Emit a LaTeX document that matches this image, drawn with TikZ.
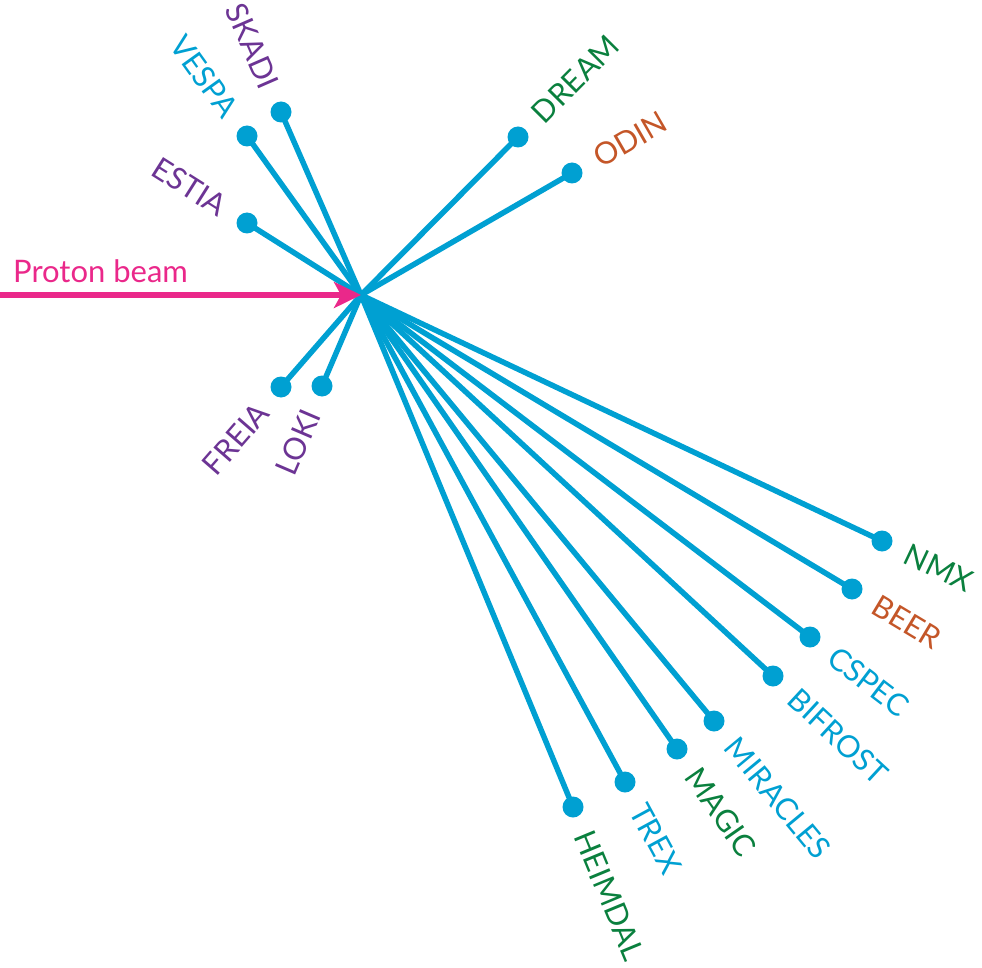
\documentclass[tikz,border=0pt]{standalone}
\usepackage{fontspec}
\setmainfont{Lato}
\usetikzlibrary{calc,arrows.meta}
\definecolor{essblue}{RGB}{0,160,210}
\definecolor{esspurple}{RGB}{108,52,148}
\definecolor{essgreen}{RGB}{10,128,62}
\definecolor{essorange}{RGB}{196,86,40}
\definecolor{esspink}{RGB}{234,40,138}
\newcommand\labfont{\fontsize{30.5}{36}\selectfont}
\newcommand\beamfont{\fontsize{31}{37}\selectfont}
\newcommand\myinstr[5]{%
  \coordinate (#1-p) at (#2,-#3);
  \draw[ray] (c) -- (#1-p);
  \node[instdot] (#1) at (#1-p) {};
  \coordinate (#1-l) at ($(#1-p)!-27pt!(c)$);
  \path (c) -- (#1-l) node[pos=1, sloped, anchor=#5, text=#4, font=\labfont, inner sep=0pt] (#1-t) {#1};
}
\tikzset{
  ray/.style={draw=essblue, line width=5.5pt},
  instdot/.style={circle, fill=essblue, minimum size=21pt, inner sep=0pt},
  beam/.style={draw=esspink, line width=5.5pt, -{Stealth[length=27pt, width=26pt, inset=7pt]}},
}
\begin{document}
\begin{tikzpicture}[x=1pt,y=1pt]
\useasboundingbox (0,0) rectangle (982,-968);
\coordinate (c) at (361,-295);
\myinstr{SKADI}{281}{112}{esspurple}{east}
\myinstr{VESPA}{247}{136}{essblue}{east}
\myinstr{ESTIA}{247}{223}{esspurple}{east}
\myinstr{FREIA}{281}{387}{esspurple}{east}
\myinstr{LOKI}{322}{386}{esspurple}{east}
\myinstr{DREAM}{518}{137}{essgreen}{west}
\myinstr{ODIN}{572}{173}{essorange}{west}
\myinstr{NMX}{882}{541}{essgreen}{west}
\myinstr{BEER}{852}{589}{essorange}{west}
\myinstr{CSPEC}{810}{637}{essblue}{west}
\myinstr{BIFROST}{773}{676}{essblue}{west}
\myinstr{MIRACLES}{714}{721}{essblue}{west}
\myinstr{MAGIC}{677}{749}{essgreen}{west}
\myinstr{TREX}{625}{782}{essblue}{west}
\myinstr{HEIMDAL}{573}{807}{essgreen}{west}
\coordinate (bstart) at (0,-295);
\draw[beam] (bstart) -- (c);
\node[anchor=base west, text=esspink, font=\beamfont, inner sep=0pt] (pb) at (13,-283) {Proton beam};
\end{tikzpicture}
\end{document}
